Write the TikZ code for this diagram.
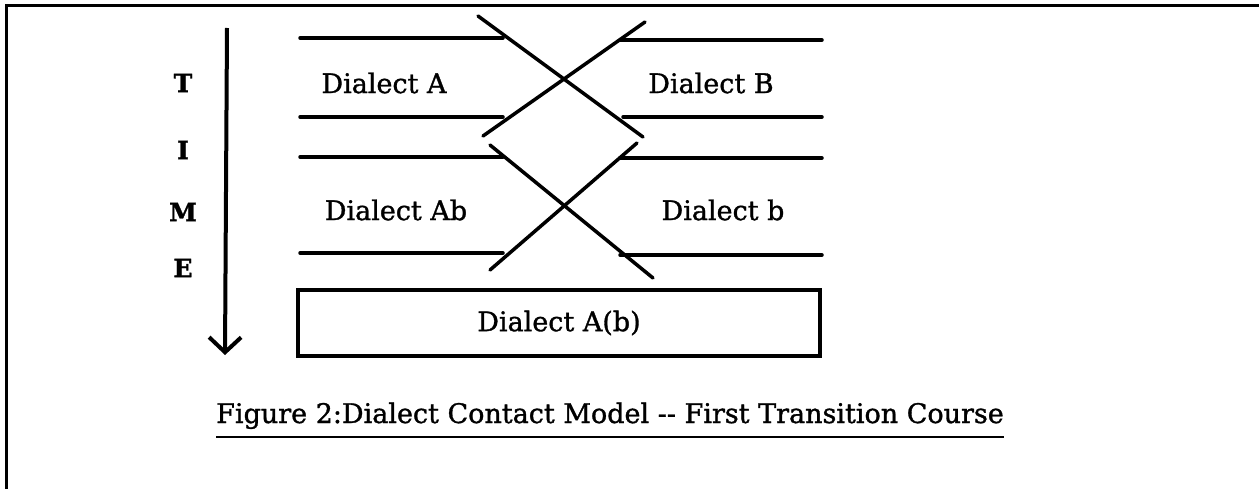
\documentclass[tikz,border=0pt]{standalone}
\usepackage{fontspec}
\setmainfont{DejaVu Serif}[FakeBold=1.2]
\usetikzlibrary{arrows.meta}
\begin{document}
\begin{tikzpicture}[x=1pt,y=-1pt,
  ln/.style={line width=3.5pt,line cap=round},
  lbl/.style={font=\fontsize{27}{31}\selectfont,inner sep=0pt},
  tm/.style={font=\fontsize{25}{29}\selectfont\bfseries,inner sep=0pt}]
\useasboundingbox (0,0) rectangle (1259,489);
% frame
\coordinate (f1) at (6,489); \coordinate (f2) at (6,6); \coordinate (f3) at (1259,6);
\draw[line width=3pt] (f1) -- (f2) -- (f3);
% time arrow
\coordinate (t0) at (227,28); \coordinate (t1) at (225,355);
\draw[line width=4pt,-{Straight Barb[length=15pt,width=32pt,line width=4pt]}] (t0) -- (t1);
\node[tm] (T) at (183,83) {T};
\node[tm] (I) at (183,150) {I};
\node[tm] (M) at (183,212) {M};
\node[tm] (E) at (183,268) {E};
% horizontal lines
\coordinate (l1s) at (300,38);  \coordinate (l1e) at (503,38);
\coordinate (l2s) at (300,117); \coordinate (l2e) at (503,117);
\coordinate (l3s) at (300,157); \coordinate (l3e) at (503,157);
\coordinate (l4s) at (300,253); \coordinate (l4e) at (503,253);
\coordinate (r1s) at (620,40);  \coordinate (r1e) at (822,40);
\coordinate (r2s) at (623,117); \coordinate (r2e) at (822,117);
\coordinate (r3s) at (620,158); \coordinate (r3e) at (822,158);
\coordinate (r4s) at (620,255); \coordinate (r4e) at (822,255);
\foreach \a/\b in {l1s/l1e,l2s/l2e,l3s/l3e,l4s/l4e,r1e/r1s,r2e/r2s,r3e/r3s,r4e/r4s}
  \draw[ln] (\a) -- (\b);
% crossings
\coordinate (a0) at (478,16);  \coordinate (a1) at (643,137);
\coordinate (b0) at (645,22);  \coordinate (b1) at (483,136);
\coordinate (c0) at (490,145); \coordinate (c1) at (653,278);
\coordinate (d0) at (637,143); \coordinate (d1) at (490,270);
\draw[ln] (a0) -- (a1);
\draw[ln] (b0) -- (b1);
\draw[ln] (c0) -- (c1);
\draw[ln] (d0) -- (d1);
% labels
\node[lbl] (dA) at (384,83) {Dialect A};
\node[lbl] (dB) at (711,83) {Dialect B};
\node[lbl] (dAb) at (396,210) {Dialect Ab};
\node[lbl] (db) at (723,210) {Dialect b};
% box
\node[draw,line width=3.5pt,minimum width=522pt,minimum height=66pt,inner sep=0pt,
  font=\fontsize{27}{31}\selectfont] (box) at (559,323) {Dialect A(b)};
% caption
\node[lbl,anchor=base,inner ysep=8pt] (cap) at (610,423)
  {Figure 2:Dialect Contact Model -{}- First Transition Course};
\draw[line width=2pt] (cap.south west) -- (cap.south east);
\end{tikzpicture}
\end{document}
